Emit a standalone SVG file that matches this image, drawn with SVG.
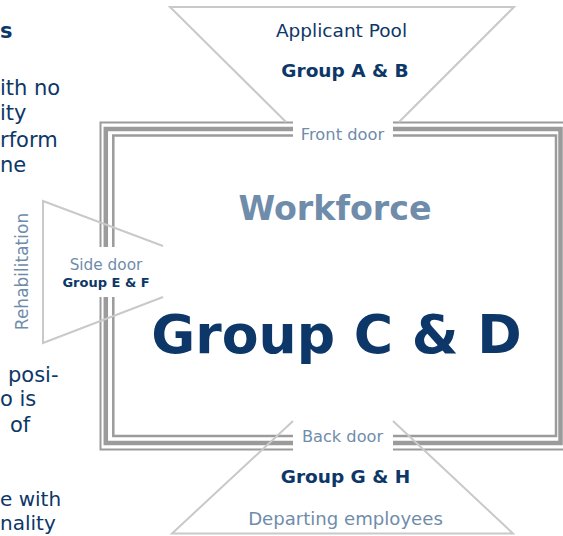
<svg xmlns="http://www.w3.org/2000/svg" width="563" height="536" viewBox="0 0 563 536">
<style>
text{font-family:"DejaVu Sans","Verdana",sans-serif}
.navy{fill:#0c3768}
.soft{fill:#6f8cab}
.b{font-weight:bold}
.fr{fill:none;stroke:#9b9b9b}
.fun{fill:none;stroke:#c9c9c9;stroke-width:2}
.side{font-size:21px}
</style>
<rect width="563" height="536" fill="#ffffff"/>
<g id="side-text" class="navy side">
<text x="0" y="38" class="b">s</text>
<text x="0" y="95">ith no</text>
<text x="0" y="120">ity</text>
<text x="0" y="147">rform</text>
<text x="0" y="172">ne</text>
<text x="8" y="382">posi-</text>
<text x="0" y="406">o is</text>
<text x="10" y="432">of</text>
<text x="0" y="506" font-size="20">e with</text>
<text x="0" y="530" font-size="20">nality</text>
</g>
<g id="workforce-frame">
<rect class="fr" x="100.5" y="122.5" width="470" height="327" stroke-width="2"/>
<rect class="fr" x="105.8" y="129" width="454.7" height="314" stroke-width="4.5"/>
<rect class="fr" x="113.3" y="135.5" width="442.7" height="300.5" stroke-width="2.5"/>
</g>
<g id="door-gaps" fill="#ffffff">
<rect x="293" y="115" width="100" height="28"/>
<rect x="293" y="421" width="100" height="33"/>
<rect x="96" y="247" width="67" height="50"/>
</g>
<g id="connectors">
<polyline class="fun" points="286,122 170,7 514,7 399,122"/>
<polyline class="fun" points="293,421 172,533.5 513,533.5 393,421"/>
<polyline class="fun" points="163,246 43,201 43,343 163,297"/>
</g>
<g id="applicant-pool">
<text x="341.5" y="37" text-anchor="middle" font-size="18.5" class="navy">Applicant Pool</text>
<text x="345" y="77" text-anchor="middle" font-size="18.5" class="navy b">Group A &amp; B</text>
</g>
<g id="front-door">
<text x="342.5" y="140" text-anchor="middle" font-size="16.3" class="soft">Front door</text>
</g>
<g id="workforce">
<text x="335" y="220" text-anchor="middle" font-size="33.3" class="soft b">Workforce</text>
<text x="336.5" y="353" text-anchor="middle" font-size="53.6" class="navy b">Group C &amp; D</text>
</g>
<g id="side-door">
<text x="106" y="270" text-anchor="middle" font-size="15.3" class="soft">Side door</text>
<text x="106" y="286.5" text-anchor="middle" font-size="13" class="navy b">Group E &amp; F</text>
<text transform="translate(28,271.5) rotate(-90)" text-anchor="middle" font-size="17" class="soft">Rehabilitation</text>
</g>
<g id="back-door">
<text x="342.5" y="441.7" text-anchor="middle" font-size="16.2" class="soft">Back door</text>
<text x="345.5" y="483.3" text-anchor="middle" font-size="18.5" class="navy b">Group G &amp; H</text>
<text x="345.5" y="525" text-anchor="middle" font-size="18.1" class="soft">Departing employees</text>
</g>
</svg>
